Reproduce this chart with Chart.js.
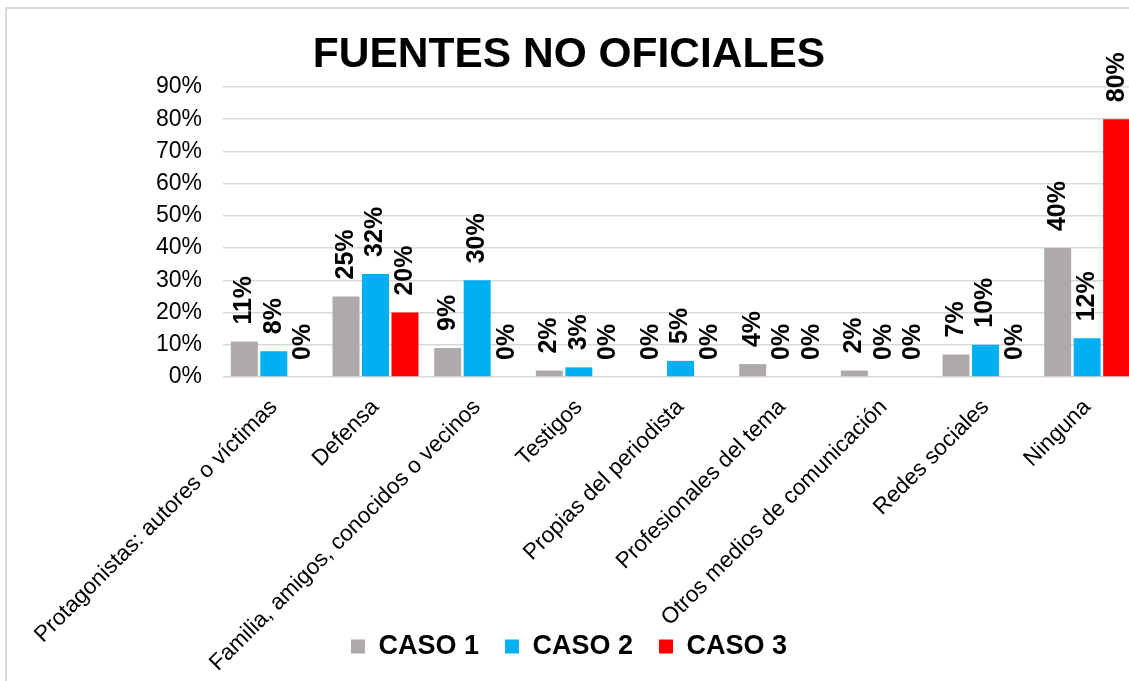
<!doctype html>
<html>
  <head>
    <title>Fuentes no oficiales</title>
    <meta charset="UTF-8">
    <style>
      body { margin: 0; overflow: hidden; background: #fff; }
      #marco { position: absolute; left: 5px; top: 7px; width: 2000px; height: 2000px; border: 2px solid #d9d9d9; }
      #chart-box { position: absolute; left: 0; top: 0; width: 1145px; height: 681px; }
    </style>
  </head>
  <body>
    <div id="marco"></div>
    <div id="chart-box"><canvas id="myChart"></canvas></div>

    <script src="https://cdn.jsdelivr.net/npm/chart.js@4.4.1/dist/chart.umd.min.js"></script>
    <script>
      // datos
      var categorias = [
        'Protagonistas: autores o víctimas',
        'Defensa',
        'Familia, amigos, conocidos o vecinos',
        'Testigos',
        'Propias del periodista',
        'Profesionales del tema',
        'Otros medios de comunicación',
        'Redes sociales',
        'Ninguna'
      ];
      var caso1 = [11, 25, 9, 2, 0, 4, 2, 7, 40];
      var caso2 = [8, 32, 30, 3, 5, 0, 0, 10, 12];
      var caso3 = [0, 20, 0, 0, 0, 0, 0, 0, 80];
      var ticksY = [0, 10, 20, 30, 40, 50, 60, 70, 80, 90];

      var fuente = '"Liberation Sans", Arial, sans-serif';

      // etiquetas de valor giradas encima de cada barra
      var etiquetas = {
        id: 'etiquetas',
        afterLayout: function(chart){
          // las etiquetas del eje x bajan por detras de la leyenda, no recortarlas
          chart.scales.x.bottom = chart.height;
        },
        afterDatasetsDraw: function(chart){
          var ctx = chart.ctx;
          ctx.save();
          ctx.font = 'bold 25px ' + fuente;
          ctx.fillStyle = '#000';
          ctx.textAlign = 'left';
          ctx.textBaseline = 'middle';
          chart.data.datasets.forEach(function(ds, i){
            var meta = chart.getDatasetMeta(i);
            meta.data.forEach(function(bar, j){
              ctx.save();
              ctx.translate(bar.x, bar.y - 17);
              ctx.rotate(-Math.PI / 2);
              ctx.fillText(ds.data[j] + '%', 0, 0);
              ctx.restore();
            });
          });
          ctx.restore();
        }
      };

      var ctx = document.getElementById('myChart');
      var myChart = new Chart(ctx, {
        type: 'bar',
        data: {
          labels: categorias,
          datasets: [
            { label: 'CASO 1', data: caso1, backgroundColor: '#AEAAAA' },
            { label: 'CASO 2', data: caso2, backgroundColor: '#00B0F0' },
            { label: 'CASO 3', data: caso3, backgroundColor: '#FF0000' }
          ]
        },
        options: {
          responsive: true,
          maintainAspectRatio: false,
          animation: false,
          datasets: { bar: { barPercentage: 0.915, categoryPercentage: 0.87 } },
          layout: { padding: { top: 30, bottom: 11, left: 0, right: 7 } },
          plugins: {
            title: {
              display: true,
              text: 'FUENTES NO OFICIALES',
              color: '#000',
              font: { family: fuente, size: 42.5, weight: 'bold' },
              padding: { top: 0, bottom: 6 }
            },
            legend: {
              position: 'bottom',
              labels: {
                color: '#000',
                boxWidth: 14,
                boxHeight: 14,
                padding: 26,
                font: { family: fuente, size: 27, weight: 'bold' }
              }
            },
            tooltip: { enabled: false }
          },
          scales: {
            x: {
              grid: { display: false },
              border: { display: false },
              ticks: {
                color: '#000',
                autoSkip: false,
                maxRotation: 45,
                minRotation: 45,
                padding: 9,
                font: { family: fuente, size: 22.5 }
              },
              afterFit: function(scale){ scale.height = 230; }
            },
            y: {
              min: 0,
              max: 90,
              grid: { color: '#d9d9d9', lineWidth: 1.5, drawTicks: false },
              border: { display: false },
              afterBuildTicks: function(scale){
                scale.ticks = ticksY.map(function(v){ return { value: v }; });
              },
              ticks: {
                color: '#000',
                padding: 21,
                font: { family: fuente, size: 23 },
                callback: function(v){ return v + '%'; }
              },
              afterFit: function(scale){ scale.width = 223; }
            }
          }
        },
        plugins: [etiquetas]
      });
    </script>
  </body>
</html>
